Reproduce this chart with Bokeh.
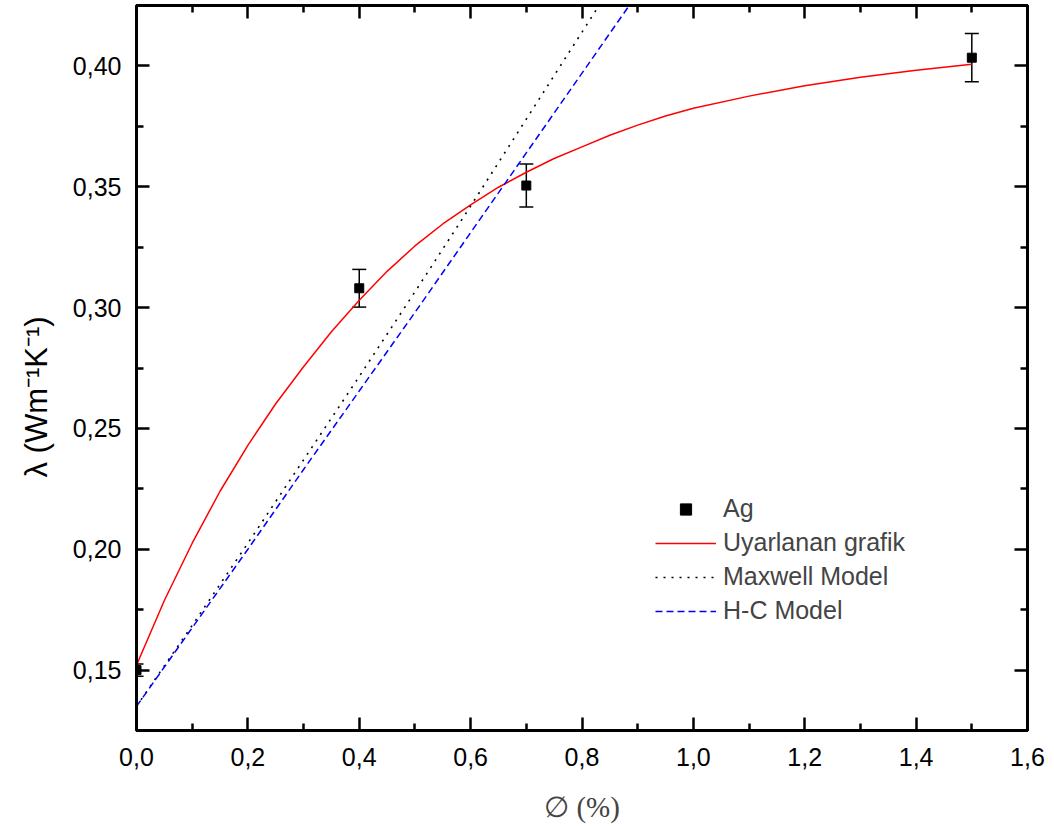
from bokeh.plotting import figure
from bokeh.models import (ColumnDataSource, Range1d, FixedTicker, LinearAxis, Whisker,
                          TeeHead, Legend, LegendItem, CustomJSTickFormatter, Title)
from bokeh.embed import file_html
from bokeh.resources import INLINE

# measured data (Ag)
phi_ag = [0.0, 0.4, 0.7, 1.5]
lam_ag = [0.150, 0.308, 0.3505, 0.4034]
err_ag = [0.0025, 0.0078, 0.0089, 0.0100]

# fitted curve (Uyarlanan grafik)
fit_x = [0.0, 0.05, 0.1, 0.15, 0.2, 0.25, 0.3, 0.35, 0.4, 0.45, 0.5, 0.55, 0.6, 0.65,
         0.7, 0.75, 0.8, 0.85, 0.9, 0.95, 1.0, 1.1, 1.2, 1.3, 1.4, 1.5]
fit_y = [0.152, 0.1788, 0.2025, 0.224, 0.243, 0.2602, 0.2755, 0.290, 0.303, 0.315,
         0.3255, 0.3346, 0.3425, 0.3498, 0.356, 0.3617, 0.3665, 0.3713, 0.3755, 0.3793,
         0.3825, 0.3875, 0.3918, 0.3953, 0.3982, 0.4007]

# Maxwell model
max_x = [0.0, 0.1, 0.2, 0.3, 0.4, 0.5, 0.6, 0.7, 0.8, 0.9]
max_y = [0.135, 0.1685, 0.2025, 0.237, 0.2715, 0.3065, 0.342, 0.378, 0.414, 0.450]

# H-C model
hc_x = [0.0, 0.1, 0.2, 0.3, 0.4, 0.5, 0.6, 0.7, 0.8, 0.9]
hc_y = [0.135, 0.1675, 0.200, 0.233, 0.2655, 0.298, 0.331, 0.364, 0.397, 0.430]

x_major = [0.0, 0.2, 0.4, 0.6, 0.8, 1.0, 1.2, 1.4, 1.6]
x_minor = [0.1, 0.3, 0.5, 0.7, 0.9, 1.1, 1.3, 1.5]
y_major = [0.15, 0.20, 0.25, 0.30, 0.35, 0.40]
y_minor = [0.125, 0.175, 0.225, 0.275, 0.325, 0.375, 0.425]

SANS = "Liberation Sans"
SERIF = "Liberation Serif"

p = figure(width=1054, height=829, x_range=Range1d(0, 1.6), y_range=Range1d(0.125, 0.425),
           output_backend="svg", toolbar_location=None,
           min_border_left=136, min_border_right=27, min_border_top=5, min_border_bottom=99)
p.xgrid.grid_line_color = None
p.ygrid.grid_line_color = None
p.outline_line_color = "black"
p.outline_line_width = 3
p.background_fill_color = "white"
p.border_fill_color = "white"

src = ColumnDataSource(dict(x=phi_ag, y=lam_ag,
                            upper=[a + b for a, b in zip(lam_ag, err_ag)],
                            lower=[a - b for a, b in zip(lam_ag, err_ag)]))

r_fit = p.line(fit_x, fit_y, line_color="red", line_width=1.5, line_join="round")
r_max = p.line(max_x, max_y, line_color="black", line_width=1.6, line_dash="2 6")
r_hc = p.line(hc_x, hc_y, line_color="blue", line_width=1.5, line_dash="7 4")

wh = Whisker(base="x", upper="upper", lower="lower", source=src,
             line_color="black", line_width=1.5,
             upper_head=TeeHead(size=14, line_width=1.5, line_color="black"),
             lower_head=TeeHead(size=14, line_width=1.5, line_color="black"))
p.add_layout(wh)
r_pts = p.scatter("x", "y", source=src, marker="square", size=9,
                  fill_color="black", line_color="black")


def style_axis(ax, major, minor, show_labels):
    ax.ticker = FixedTicker(ticks=major, minor_ticks=minor)
    ax.axis_line_width = 3
    ax.axis_line_color = "black"
    ax.major_tick_in = 13
    ax.major_tick_out = 0
    ax.minor_tick_in = 7
    ax.minor_tick_out = 0
    ax.major_tick_line_width = 2.5
    ax.minor_tick_line_width = 2.5
    ax.major_tick_line_color = "black"
    ax.minor_tick_line_color = "black"
    if show_labels:
        ax.major_label_text_font = SANS
        ax.major_label_text_font_size = "25px"
        ax.major_label_text_color = "black"
    else:
        ax.major_label_text_font_size = "0px"
        ax.major_label_standoff = 0
        ax.formatter = CustomJSTickFormatter(code="return ''")


xa = p.xaxis[0]
ya = p.yaxis[0]
style_axis(xa, x_major, x_minor, True)
style_axis(ya, y_major, y_minor, True)
xa.formatter = CustomJSTickFormatter(code="return tick.toFixed(1).replace('.', ',')")
ya.formatter = CustomJSTickFormatter(code="return tick.toFixed(2).replace('.', ',')")
xa.major_label_standoff = 17
ya.major_label_standoff = 15

xa.axis_label = "\u2205 (%)"
xa.axis_label_text_font = SERIF
xa.axis_label_text_font_size = "29px"
xa.axis_label_text_font_style = "normal"
xa.axis_label_standoff = 22

ytitle = Title(text="\u03bb (Wm\u207b\u00b9K\u207b\u00b9)", align="left", offset=253,
               text_font=SANS, text_font_size="31px", text_font_style="normal",
               text_color="black", standoff=32)
p.add_layout(ytitle, "left")

top = LinearAxis()
right = LinearAxis()
style_axis(top, x_major, x_minor, False)
style_axis(right, y_major, y_minor, False)
p.add_layout(top, "above")
p.add_layout(right, "right")

legend = Legend(items=[
    LegendItem(label="Ag", renderers=[r_pts]),
    LegendItem(label="Uyarlanan grafik", renderers=[r_fit]),
    LegendItem(label="Maxwell Model", renderers=[r_max]),
    LegendItem(label="H-C Model", renderers=[r_hc]),
], location=(519, 105))
legend.border_line_color = None
legend.background_fill_alpha = 0
legend.label_text_font = SANS
legend.label_text_font_size = "25px"
legend.glyph_width = 61
legend.glyph_height = 28
legend.label_height = 28
legend.label_standoff = 7
legend.spacing = 5
legend.padding = 0
legend.margin = 0
p.add_layout(legend, "center")

open("out.html", "w").write(file_html(p, INLINE))
